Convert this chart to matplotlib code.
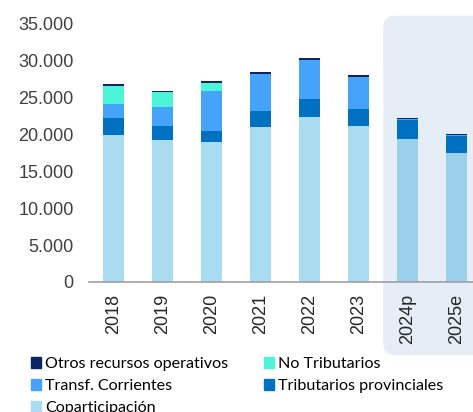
import matplotlib
matplotlib.use("Agg")
import matplotlib.pyplot as plt
from matplotlib.patches import FancyBboxPatch, Patch
from matplotlib.transforms import IdentityTransform

years = ["2018", "2019", "2020", "2021", "2022", "2023", "2024p", "2025e"]
copart = [20000, 19300, 19000, 21000, 22400, 21100, 19450, 17550]
tribut = [2250, 1900, 1550, 2250, 2450, 2400, 2500, 2200]
transf = [1900, 2600, 5300, 5000, 5300, 4350, 150, 150]
notrib = [2450, 1950, 1200, 0, 0, 0, 0, 0]
otros = [300, 150, 150, 230, 180, 270, 150, 120]
yticks = [0, 5000, 10000, 15000, 20000, 25000, 30000, 35000]
ytick_labels = ["0", "5.000", "10.000", "15.000", "20.000", "25.000", "30.000", "35.000"]

c_cop = "#A9DCF1"
c_cop_p = "#9BD0EC"
c_tri = "#0070C0"
c_tra = "#45A3FA"
c_not = "#4DF5D8"
c_otr = "#0B2466"

W, H = 473, 412
fig = plt.figure(figsize=(W / 100, H / 100), dpi=100)
ax = fig.add_axes([89 / W, 1 - 282 / H, 1 - 89 / W, (282 - 24) / H])
ax.set_zorder(2)
ax.set_xlim(-0.5, 7.33)
ax.set_ylim(0, 35000)

x = list(range(len(years)))
bw = 0.43
cop_colors = [c_cop if not (y.endswith("p") or y.endswith("e")) else c_cop_p for y in years]
b0 = [0] * len(x)
ax.bar(x, copart, bw, bottom=b0, color=cop_colors, zorder=3, linewidth=0)
b1 = [a for a in copart]
ax.bar(x, tribut, bw, bottom=b1, color=c_tri, zorder=3, linewidth=0)
b2 = [a + b for a, b in zip(b1, tribut)]
ax.bar(x, transf, bw, bottom=b2, color=c_tra, zorder=3, linewidth=0)
b3 = [a + b for a, b in zip(b2, transf)]
ax.bar(x, notrib, bw, bottom=b3, color=c_not, zorder=3, linewidth=0)
b4 = [a + b for a, b in zip(b3, notrib)]
ax.bar(x, otros, bw, bottom=b4, color=c_otr, zorder=3, linewidth=0)

# shaded projection area
fig.canvas.draw()
x0 = ax.transData.transform((5.5, 0))[0]
shade = FancyBboxPatch((x0, 57), 140, H - 15.7 - 57,
                       boxstyle="round,pad=0,rounding_size=12",
                       transform=IdentityTransform(), facecolor="#E5EDF7",
                       edgecolor="none", zorder=0)
fig.patches.append(shade)

ax.set_facecolor("none")
for s in ["top", "right", "left"]:
    ax.spines[s].set_visible(False)
ax.spines["bottom"].set_color("#A0A0A0")
ax.spines["bottom"].set_linewidth(1.2)
ax.spines["bottom"].set_zorder(4)

ax.set_yticks(yticks)
ax.set_yticklabels(ytick_labels, fontfamily="Liberation Sans", fontsize=13, color="#404040")
ax.set_xticks(x)
ax.set_xticklabels(years, rotation=90, fontfamily="Liberation Sans", fontsize=13, color="#262626")
ax.tick_params(axis="y", length=0, pad=11)
ax.tick_params(axis="x", length=0, pad=8.5)

handles = [Patch(color=c_otr), Patch(color=c_tra), Patch(color=c_cop),
           Patch(color=c_not), Patch(color=c_tri)]
labels = ["Otros recursos operativos", "Transf. Corrientes", "Coparticipación",
          "No Tributarios", "Tributarios provinciales"]
leg = fig.legend(handles, labels, ncol=2, loc="upper left",
           bbox_to_anchor=(31 / W, 1 - 357 / H), frameon=False,
           prop={"family": "Lato", "size": 11.6}, handlelength=0.62, handleheight=0.62,
           handletextpad=0.25, columnspacing=2.25, labelspacing=0.5, borderpad=0,
           borderaxespad=0)
leg.set_zorder(3)

fig.savefig("out.png", dpi=100)
